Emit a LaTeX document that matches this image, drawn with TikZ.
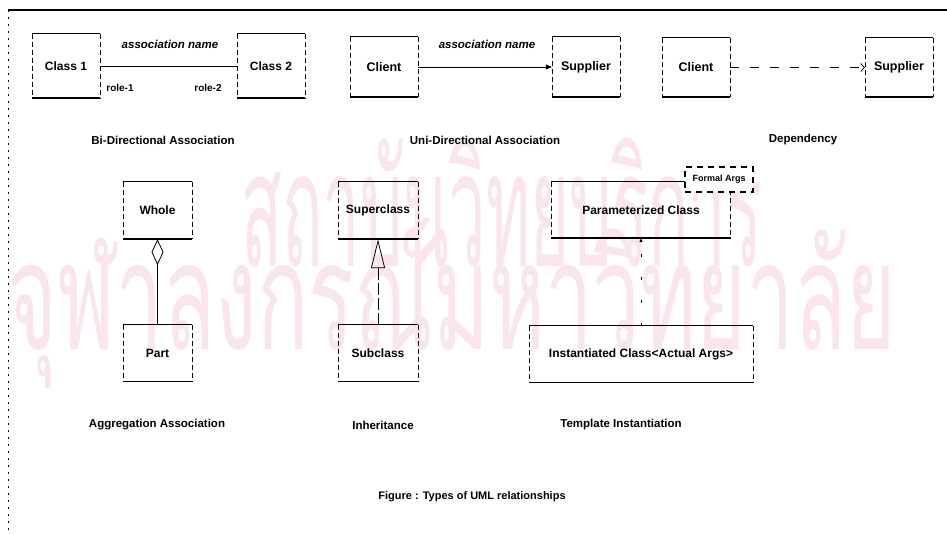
\documentclass[tikz,border=0pt]{standalone}
\usepackage{fontspec}
\setmainfont{Liberation Sans}
\newfontfamily\thaifont[Script=Thai]{Loma}
\usetikzlibrary{arrows.meta}
\definecolor{stamp}{RGB}{250,229,234}

% class box outline: heavy top and bottom rules, light broken sides
\newcommand{\umlframe}[1]{%
  \draw[rim] (#1.north west) -- (#1.north east);
  \draw[rim] (#1.south west) -- (#1.south east);
  \draw[flank] (#1.north west) -- (#1.south west);
  \draw[flank] (#1.north east) -- (#1.south east);}

\begin{document}
\begin{tikzpicture}[x=1pt,y=-1pt,
  rim/.style={line width=1.4pt},
  flank/.style={line width=0.6pt, dash pattern=on 5pt off 3pt},
  classbox/.style={rectangle, inner sep=0pt, font=\bfseries\fontsize{12}{14}\selectfont},
  caption/.style={inner sep=0pt, font=\bfseries\fontsize{11.5}{13}\selectfont},
  assoc/.style={inner sep=0pt, font=\bfseries\itshape\fontsize{11.5}{13}\selectfont},
  role/.style={inner sep=0pt, font=\bfseries\fontsize{10}{12}\selectfont},
  stamptext/.style={inner sep=0pt, text=stamp, font=\thaifont\fontsize{100}{110}\selectfont},
  link/.style={line width=0.8pt}]
\useasboundingbox (0,0) rectangle (947,534);

% institutional stamp behind the figure
\node[stamptext] (wm1) at (502,203) {\scalebox{0.67}[1.6]{สถาบันวิทยบริการ}};
\node[stamptext] (wm2) at (452,303) {\scalebox{0.85}[1.5]{จุฬาลงกรณ์มหาวิทยาลัย}};

% page frame
\coordinate (ftl) at (8,10);
\coordinate (ftr) at (947,10);
\coordinate (fbl) at (8,534);
\draw[line width=1.6pt] (ftl) -- (ftr);
\draw[line width=0.8pt, dash pattern=on 2pt off 5pt] (ftl) -- (fbl);

% ---- bi-directional association
\node[classbox, minimum width=68pt, minimum height=64pt] (c1) at (66,66) {Class 1};
\node[classbox, minimum width=68pt, minimum height=64pt] (c2) at (271,66) {Class 2};
\umlframe{c1}\umlframe{c2}
\draw[link] (c1.east) -- (c2.west);
\node[assoc] (an1) at (170,44) {association name};
\node[role] (r1) at (120,88) {role-1};
\node[role] (r2) at (208,88) {role-2};
\node[caption] (cap1) at (163,140) {Bi-Directional Association};

% ---- uni-directional association
\node[classbox, minimum width=68pt, minimum height=60pt, font=\bfseries\fontsize{12.5}{14}\selectfont] (uc) at (384,67) {Client};
\node[classbox, minimum width=68pt, minimum height=60pt, font=\bfseries\fontsize{12.5}{14}\selectfont] (us) at (586,67) {Supplier};
\umlframe{uc}\umlframe{us}
\draw[link, -{Triangle[length=6pt,width=5pt]}] (uc.east) -- (us.west);
\node[assoc] (an2) at (487,44) {association name};
\node[caption] (cap2) at (485,140) {Uni-Directional Association};

% ---- dependency
\node[classbox, minimum width=68pt, minimum height=59pt, font=\bfseries\fontsize{12.5}{14}\selectfont] (dc) at (696,67.5) {Client};
\node[classbox, minimum width=68pt, minimum height=59pt, font=\bfseries\fontsize{12.5}{14}\selectfont] (ds) at (899,67.5) {Supplier};
\umlframe{dc}\umlframe{ds}
\draw[link, dash pattern=on 9pt off 11pt, -{Straight Barb[length=3.5pt,width=8pt]}] (dc.east) -- (ds.west);
\node[caption] (cap3) at (803,140) {Dependency};

% ---- aggregation
\node[classbox, minimum width=69pt, minimum height=57pt] (whole) at (157.5,210.5) {Whole};
\node[classbox, minimum width=69pt, minimum height=56pt] (part) at (157.5,353) {Part};
\umlframe{whole}\umlframe{part}
\draw[link, {Diamond[open,length=26pt,width=12pt]}-] (whole.south) -- (part.north);
\node[caption] (cap4) at (157,425) {Aggregation Association};

% ---- inheritance
\node[classbox, minimum width=80pt, minimum height=57pt] (super) at (378,210.5) {Superclass};
\node[classbox, minimum width=80pt, minimum height=56pt] (sub) at (378,353) {Subclass};
\umlframe{super}\umlframe{sub}
\draw[link, dash pattern=on 12pt off 3pt, -{Triangle[open,length=29pt,width=14pt]}] (sub.north) -- (super.south);
\node[caption] (cap5) at (383,425) {Inheritance};

% ---- template instantiation
\node[classbox, minimum width=179pt, minimum height=56pt] (param) at (641,210) {Parameterized Class};
\node[classbox, minimum width=224pt, minimum height=56pt] (inst) at (641,354) {Instantiated Class<Actual Args>};
\umlframe{param}\umlframe{inst}
\node[draw, line width=1.3pt, dash pattern=on 6pt off 5pt, fill=white, inner sep=0pt,
      minimum width=68pt, minimum height=25pt, font=\bfseries\fontsize{9}{10}\selectfont] (formal) at (719,179.5) {Formal Args};
\draw[line width=0.7pt, dash pattern=on 3pt off 20pt, -{Triangle[length=4pt,width=3pt]}] (inst.north) -- (param.south);
\node[caption] (cap6) at (621,425) {Template Instantiation};

% ---- figure title
\node[caption, font=\bfseries\fontsize{11}{13}\selectfont] (title) at (472,497) {Figure : Types of UML relationships};
\end{tikzpicture}
\end{document}
